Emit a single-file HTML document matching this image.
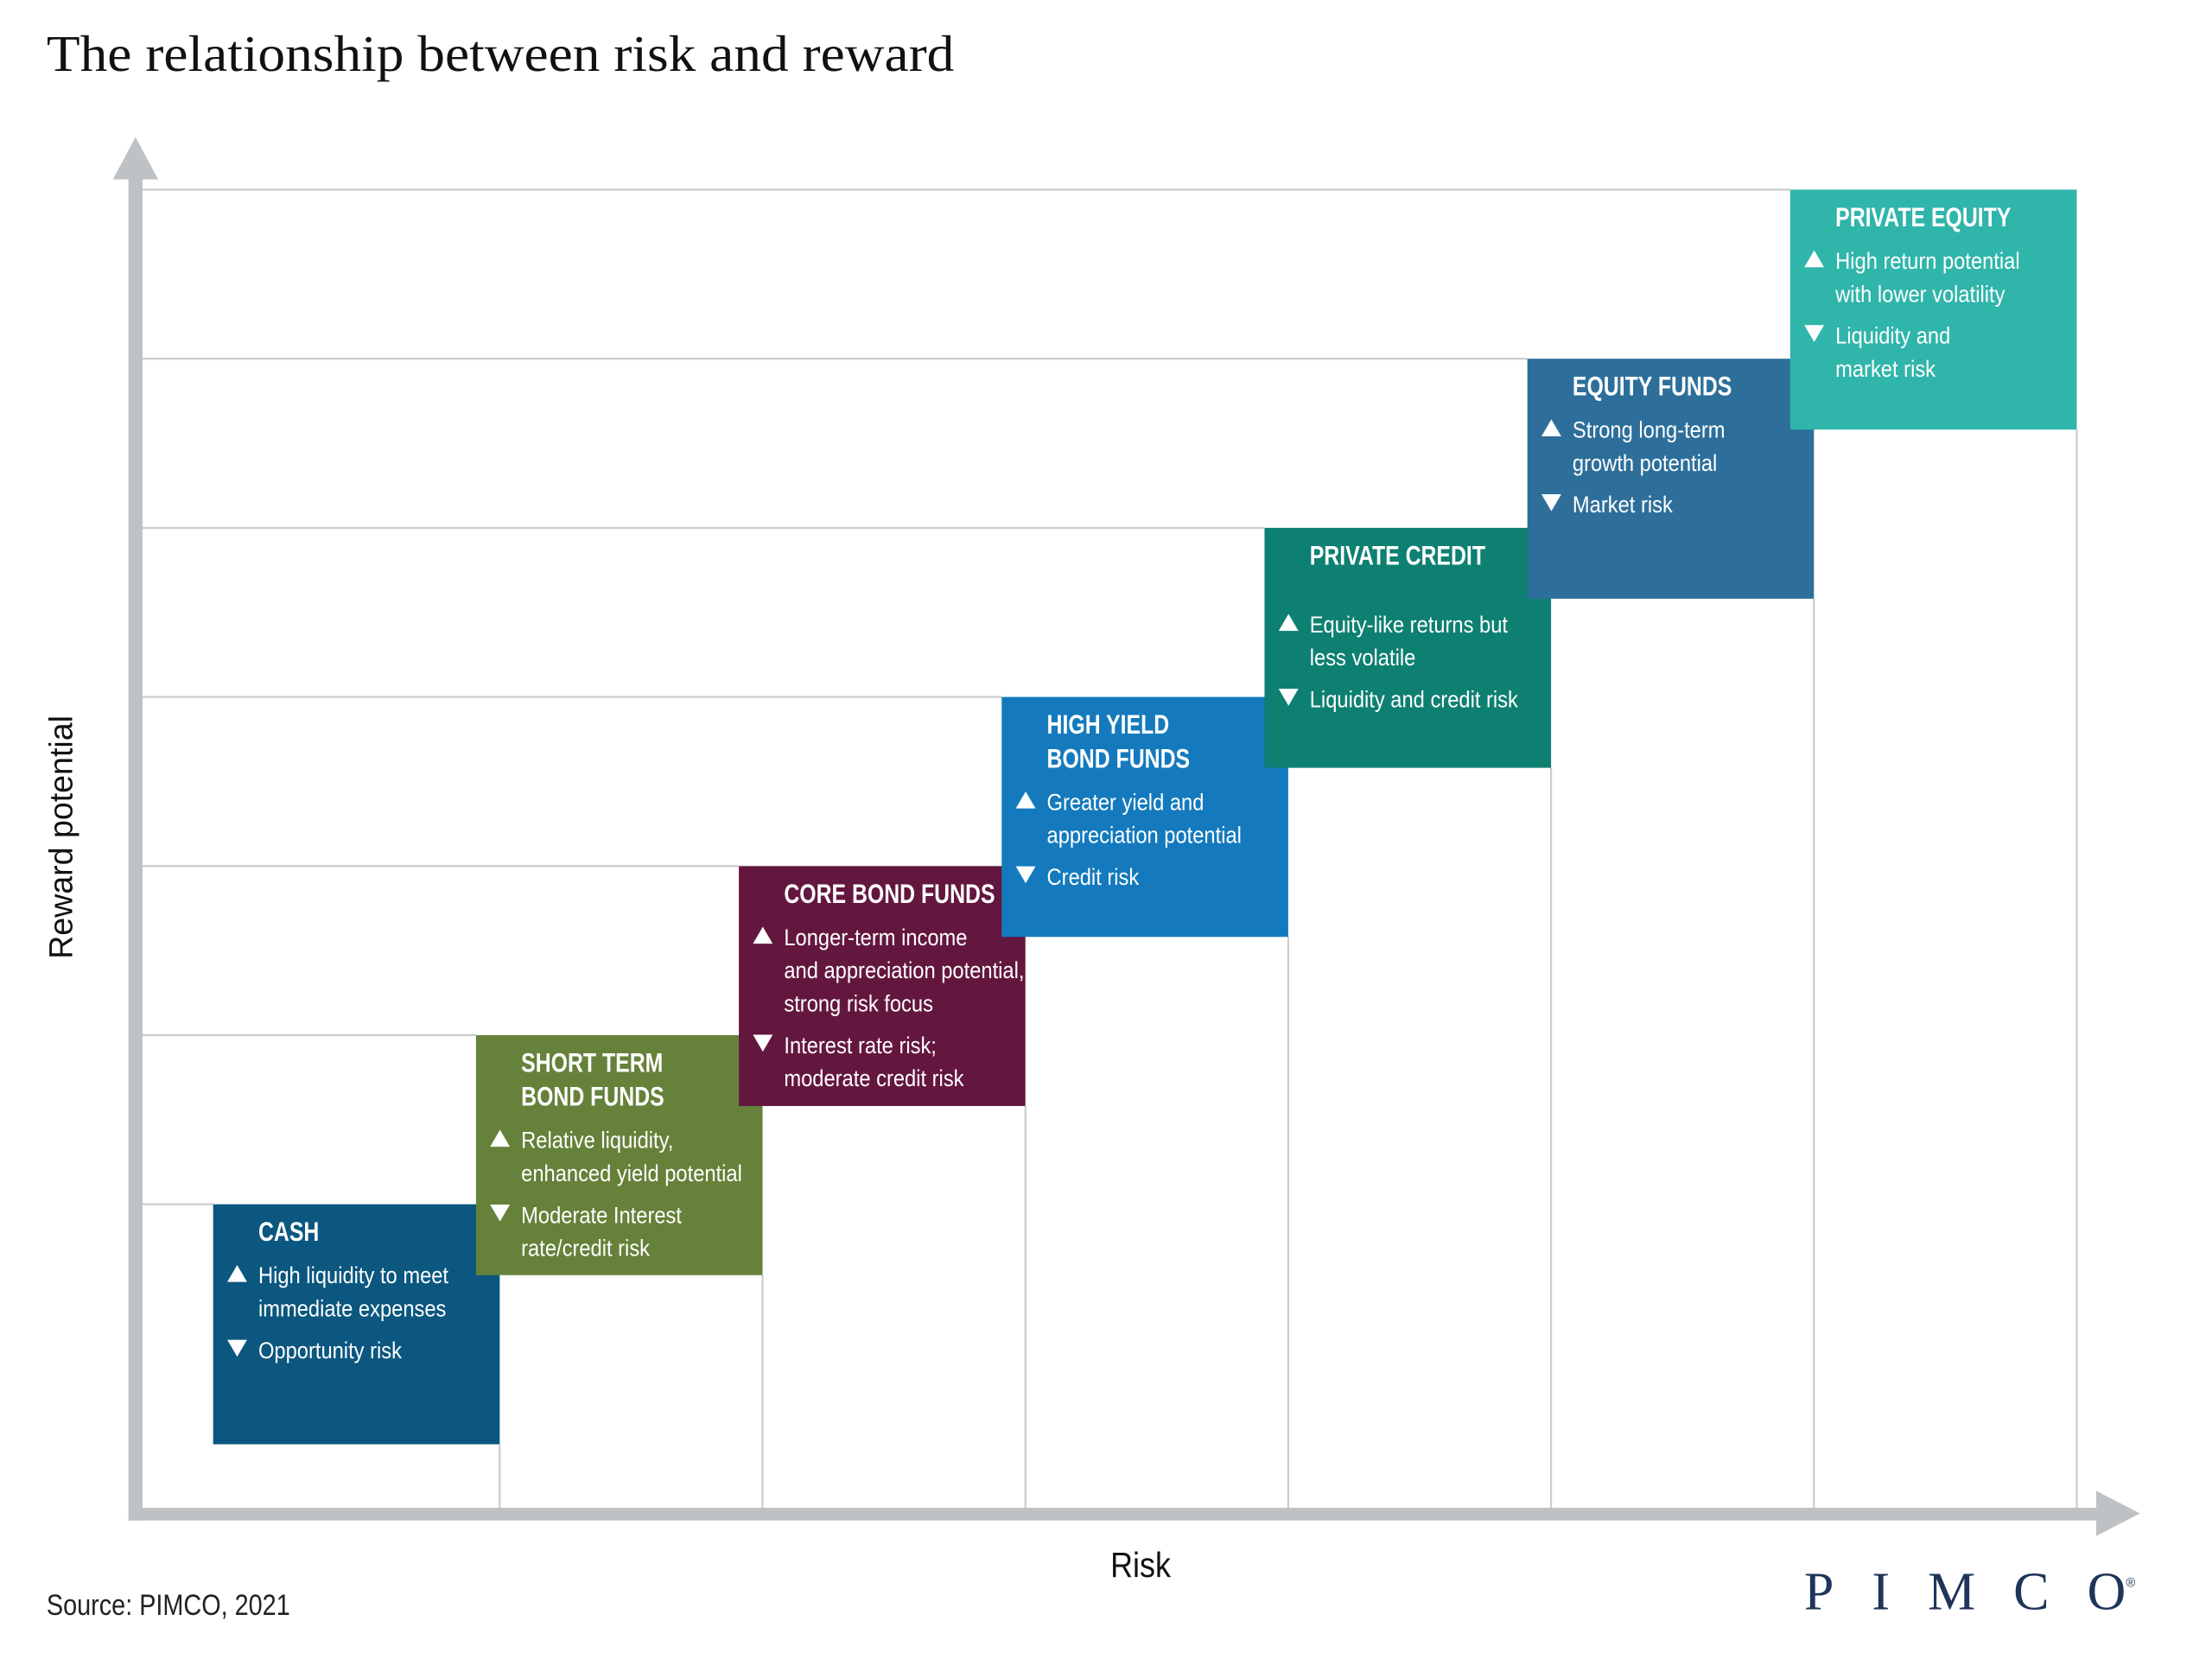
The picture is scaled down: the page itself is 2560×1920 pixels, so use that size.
<!DOCTYPE html>
<html><head><meta charset="utf-8"><style>
html,body{margin:0;padding:0;background:#fff;}
svg{display:block;}
.t{font-family:"Liberation Sans",sans-serif;fill:#fff;}
</style></head><body>
<svg id="chart" width="2560" height="1920" viewBox="0 0 1567 1175" xmlns="http://www.w3.org/2000/svg">
<text x="33" y="50" font-family="Liberation Serif, serif" font-size="36" fill="#111" textLength="643" lengthAdjust="spacingAndGlyphs">The relationship between risk and reward</text>
<g id="grid"></g>
<g id="boxes"></g>
<rect x="91" y="125" width="10" height="952" fill="#bec2c5"/>
<polygon points="96,97 112,127 80,127" fill="#bec2c5"/>
<rect x="91" y="1068" width="1396" height="9" fill="#bec2c5"/>
<polygon points="1516,1072 1485,1056 1485,1088" fill="#bec2c5"/>
<text transform="translate(51,593) rotate(-90)" text-anchor="middle" font-family="Liberation Sans, sans-serif" font-size="23" fill="#111">Reward potential</text>
<text transform="translate(808,1117) scale(0.88,1)" text-anchor="middle" font-family="Liberation Sans, sans-serif" font-size="25" fill="#111">Risk</text>
<text transform="translate(33,1144) scale(0.84,1)" font-family="Liberation Sans, sans-serif" font-size="21" fill="#222">Source: PIMCO, 2021</text>
<text x="1278" y="1140" font-family="Liberation Serif, serif" font-size="38" fill="#1f345a" textLength="228" lengthAdjust="spacing">PIMCO</text>
<text x="1506" y="1124" font-family="Liberation Sans, sans-serif" font-size="9" fill="#1f345a">®</text>
</svg>
<script>
const categories = ["CASH","SHORT TERM BOND FUNDS","CORE BOND FUNDS","HIGH YIELD BOND FUNDS","PRIVATE CREDIT","EQUITY FUNDS","PRIVATE EQUITY"];
const riskLevels = [1,2,3,4,5,6,7];
const rewardLevels = [1,2,3,4,5,6,7];
const colors = ["#0b577f","#66813a","#64173e","#147abd","#0e8071","#2d6f9a","#30b5aa"];
const titles = [["CASH"],["SHORT TERM","BOND FUNDS"],["CORE BOND FUNDS"],["HIGH YIELD","BOND FUNDS"],["PRIVATE CREDIT"],["EQUITY FUNDS"],["PRIVATE EQUITY"]];
const upsides = [["High liquidity to meet","immediate expenses"],["Relative liquidity,","enhanced yield potential"],["Longer-term income","and appreciation potential,","strong risk focus"],["Greater yield and","appreciation potential"],["Equity-like returns but","less  volatile"],["Strong long-term","growth potential"],["High return potential","with lower volatility"]];
const downsides = [["Opportunity risk"],["Moderate Interest","rate/credit risk"],["Interest rate risk;","moderate credit risk"],["Credit risk"],["Liquidity and credit risk"],["Market risk"],["Liquidity and","market risk"]];
const titleGaps = [0,0,0,0,18,0,0];

const NS="http://www.w3.org/2000/svg";
const xScale = r => 151 + (r-1)*186.2;
const yScale = v => 1023 - (v-1)*119.8;
const BW=203, BH=170;
const grid=document.getElementById('grid');
const boxes=document.getElementById('boxes');
function mk(tag,attrs,parent){const e=document.createElementNS(NS,tag);for(const k in attrs)e.setAttribute(k,attrs[k]);parent.appendChild(e);return e;}

categories.forEach((c,i)=>{
  const x=xScale(riskLevels[i]), yb=yScale(rewardLevels[i]), yt=yb-BH;
  const h=mk('line',{x1:101,x2:x,y1:yt,y2:yt,stroke:'#c8cacc','stroke-width':1.3},grid);
  
  
  const v=mk('line',{x1:x+BW,x2:x+BW,y1:yb,y2:1068,stroke:'#c8cacc','stroke-width':1.3},grid);
  
  

  const g=mk('g',{},boxes);
  
  
  const r=mk('rect',{x:x,y:yt,width:BW,height:BH,fill:colors[i]},g);
  
  
  let y=yt+26;
  titles[i].forEach(t=>{
    const e=mk('text',{transform:`translate(${x+32},${y}) scale(0.78,1)`,'font-size':19.5,'font-weight':'bold',class:'t'},g);
    e.textContent=t;
    
    
    y+=24;
  });
  y+=6+titleGaps[i];
  [[upsides[i],'up'],[downsides[i],'down']].forEach(([lines,dir])=>{
    const ty=y;
    const tri = dir==='up'
      ? `${x+10},${ty-1} ${x+24},${ty-1} ${x+17},${ty-13}`
      : `${x+10},${ty-13} ${x+24},${ty-13} ${x+17},${ty-1}`;
    const p=mk('polygon',{points:tri,fill:'#fff'},g);
    
    
    lines.forEach(l=>{
      const e=mk('text',{transform:`translate(${x+32},${y}) scale(0.88,1)`,'font-size':16.5,class:'t'},g);
      e.textContent=l;
      
      
      y+=23.5;
    });
    y+=6;
  });
});
</script>
</body></html>
